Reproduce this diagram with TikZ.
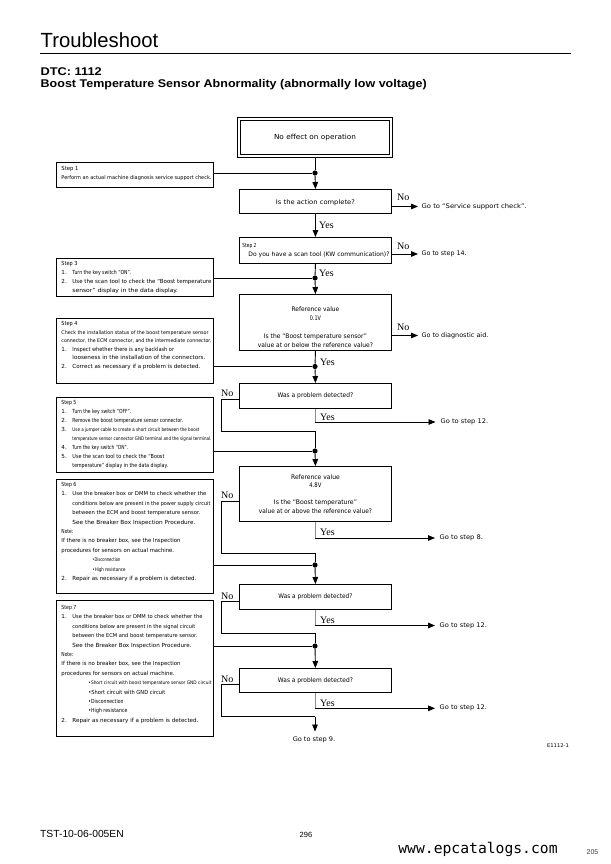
\documentclass[tikz,border=0pt]{standalone}
\usepackage{fontspec}
\setmainfont{Liberation Sans}
\newfontfamily\flowfont{DejaVu Sans}
\newfontfamily\yesnofont{Liberation Serif}
\newfontfamily\webfont{DejaVu Sans Mono}
\usepackage{graphicx}
\usetikzlibrary{arrows.meta,calc}
% flowchart text resized to a given width, height kept
\newcommand\tw[3]{{\flowfont\fontsize{#1}{#1}\selectfont\resizebox{#2pt}{\height}{#3}}}
% header text resized to a given width, height kept
\newcommand\twh[3]{{\fontsize{#1}{#1}\selectfont\resizebox{#2pt}{\height}{#3}}}
% box body: #1 height, #2 width, #3 first baseline, #4 line skip, #5 size, #6 alignment, #7 text
\newcommand\bbody[7]{\parbox[t][#1pt][t]{#2pt}{\flowfont\fontsize{#5}{#4}\selectfont\vspace*{\dimexpr#3pt-5pt\relax}#6\rule{0pt}{5pt}#7}}
\newcommand\nm[1]{\makebox[11pt][l]{#1}}
\newcommand\ind{\hspace*{11pt}}
\tikzset{
  cbox/.style={draw, line width=0.9pt, inner sep=0pt, anchor=north west},
  conn/.style={line width=0.9pt},
  yconn/.style={line width=0.9pt, draw=black!45},
  arr/.style={line width=0.9pt, -{Triangle[length=7pt,width=5.6pt]}},
  jdot/.style={circle, fill=black, inner sep=0pt, minimum size=5.2pt},
  yn/.style={font=\yesnofont\fontsize{10}{11}\selectfont, inner sep=0pt, anchor=base west},
  goto/.style={inner sep=0pt, anchor=west},
}
\begin{document}
\begin{tikzpicture}[x=1pt,y=-1pt]
\useasboundingbox (0,0) rectangle (610,864);
\fill[white] (0,0) rectangle (610,864);

% ---------- header ----------
\node[anchor=base west, inner sep=0pt] (title) at (40.5,47.3) {\twh{20.5}{117.5}{Troubleshoot}};
\draw[line width=1.2pt] (40,53.3) -- (571,53.3);
\node[anchor=base west, inner sep=0pt] (dtc) at (40.5,76) {\bfseries\twh{11.2}{61}{DTC: 1112}};
\node[anchor=base west, inner sep=0pt] (dtcname) at (40.5,87.5) {\bfseries\twh{11.2}{386}{Boost Temperature Sensor Abnormality (abnormally low voltage)}};

% ---------- start ----------
\node[draw, double, double distance=2.2pt, line width=0.8pt, inner sep=0pt,
      minimum width=152.2pt, minimum height=37.2pt] (s0) at (315,137.5)
      {\tw{7}{82}{No effect on operation}};

% ---------- step boxes (left) ----------
\node[cbox] (s1) at (56,162) {\bbody{25}{157}{8}{9}{5.6}{\leftskip=5pt\relax}{%
\tw{5.6}{17}{Step 1}\\
\tw{5.2}{150}{Perform an actual machine diagnosis service support check.}}};

\node[cbox] (s3) at (56,258) {\bbody{38}{157}{7}{9}{5.6}{\leftskip=5pt\relax}{%
\tw{5.6}{16}{Step 3}\\
\nm{1.}\tw{5.6}{59}{Turn the key switch “ON”.}\\
\nm{2.}\tw{5.6}{139}{Use the scan tool to check the “Boost temperature}\\
\ind\tw{5.6}{105.6}{sensor” display in the data display.}}};

\node[cbox] (s4) at (56,318) {\bbody{65}{157}{7}{8.6}{5.6}{\leftskip=5pt\relax}{%
\tw{5.6}{16}{Step 4}\\
\tw{5}{147}{Check the installation status of the boost temperature sensor}\\
\tw{5}{150}{connector, the ECM connector, and the intermediate connector.}\\
\nm{1.}\tw{5.6}{101.6}{Inspect whether there is any backlash or}\\
\ind\tw{5.6}{133}{looseness in the installation of the connectors.}\\
\nm{2.}\tw{5.6}{128}{Correct as necessary if a problem is detected.}}};

\node[cbox] (s5) at (56,397) {\bbody{75}{157}{7.5}{9}{5.6}{\leftskip=5pt\relax}{%
\tw{5.6}{15}{Step 5}\\
\nm{1.}\tw{5.6}{59}{Turn the key switch “OFF”.}\\
\nm{2.}\tw{5.6}{110.7}{Remove the boost temperature sensor connector.}\\
\nm{3.}\tw{4.9}{127}{Use a jumper cable to create a short circuit between the boost}\\
\ind\tw{4.9}{139}{temperature sensor connector GND terminal and the signal terminal.}\\
\nm{4.}\tw{5.6}{55.7}{Turn the key switch “ON”.}\\
\nm{5.}\tw{5.6}{92}{Use the scan tool to check the “Boost}\\
\ind\tw{5.6}{95.7}{temperature” display in the data display.}}};

\node[cbox] (s6) at (56,479) {\bbody{114}{157}{7}{9.4}{5.6}{\leftskip=5pt\relax}{%
\tw{5.6}{15}{Step 6}\\
\nm{1.}\tw{5.3}{134}{Use the breaker box or DMM to check whether the}\\
\ind\tw{5.3}{138}{conditions below are present in the power supply circuit}\\
\ind\tw{5.3}{128}{between the ECM and boost temperature sensor.}\\
\ind\tw{5.6}{123}{See the Breaker Box Inspection Procedure.}\\
\tw{5.6}{12}{Note:}\\
\tw{5.6}{119}{If there is no breaker box, see the Inspection}\\
\tw{5.6}{112.7}{procedures for sensors on actual machine.}\\
\hspace*{31pt}\tw{5}{28}{•Disconnection}\\
\hspace*{31pt}\tw{5}{33}{•High resistance}\\
\nm{2.}\tw{5.6}{124}{Repair as necessary if a problem is detected.}}};

\node[cbox] (s7) at (56,600) {\bbody{136}{157}{9}{9.4}{5.6}{\leftskip=5pt\relax}{%
\tw{5.6}{15}{Step 7}\\
\nm{1.}\tw{5.3}{130}{Use the breaker box or DMM to check whether the}\\
\ind\tw{5.3}{123}{conditions below are present in the signal circuit}\\
\ind\tw{5.3}{125}{between the ECM and boost temperature sensor.}\\
\ind\tw{5.6}{119}{See the Breaker Box Inspection Procedure.}\\
\tw{5.6}{12}{Note:}\\
\tw{5.6}{119}{If there is no breaker box, see the Inspection}\\
\tw{5.6}{113}{procedures for sensors on actual machine.}\\
\hspace*{27pt}\tw{4.8}{123}{•Short circuit with boost temperature sensor GND circuit}\\
\hspace*{27pt}\tw{5.6}{77}{•Short circuit with GND circuit}\\
\hspace*{27pt}\tw{5.6}{35}{•Disconnection}\\
\hspace*{27pt}\tw{5.6}{39}{•High resistance}\\
\nm{2.}\tw{5.6}{126}{Repair as necessary if a problem is detected.}}};

% ---------- decision boxes (centre column) ----------
\node[cbox] (d1) at (239,189) {\bbody{24}{152}{15}{9}{6.3}{\centering}{\tw{6.3}{79}{Is the action complete?}}};
\node[cbox] (d2) at (239,237) {\bbody{26}{152}{10}{9}{6}{\leftskip=3pt\relax}{%
\tw{5.6}{14}{Step 2}\\
\hspace*{6pt}\tw{6.1}{141}{Do you have a scan tool (KW communication)?}}};
\node[cbox] (d3) at (239,294) {\bbody{56}{152}{17}{9}{6.3}{\centering}{%
\tw{6.3}{47.7}{Reference value}\\
\tw{6.3}{11}{0.1V}\\[9pt]
\tw{6.3}{103}{Is the “Boost temperature sensor”}\\
\tw{6.3}{115}{value at or below the reference value?}}};
\node[cbox] (d4) at (239,383) {\bbody{25}{152}{14.5}{9}{6.3}{\centering}{\tw{6.3}{75.7}{Was a problem detected?}}};
\node[cbox] (d5) at (239,466) {\bbody{55}{152}{13}{8.5}{6.3}{\centering}{%
\tw{6.3}{48.7}{Reference value}\\
\tw{6.3}{12}{4.8V}\\[8.5pt]
\tw{6.3}{83}{Is the “Boost temperature”}\\
\tw{6.3}{113}{value at or above the reference value?}}};
\node[cbox] (d6) at (239,584) {\bbody{25}{152}{14.5}{9}{6.3}{\centering}{\tw{6.3}{74}{Was a problem detected?}}};
\node[cbox] (d7) at (239,668) {\bbody{24}{152}{14}{9}{6.3}{\centering}{\tw{6.3}{75}{Was a problem detected?}}};

% ---------- junction dots ----------
\node[jdot] (j1) at (315,173) {};
\node[jdot] (j2) at (315,278) {};
\node[jdot] (j3) at (315,366.5) {};
\node[jdot] (j4) at (315,451) {};
\node[jdot] (j5) at (315,565) {};
\node[jdot] (j6) at (315,646) {};

% ---------- corner points of the No routes ----------
\coordinate (n4t) at (221.5,399.5); \coordinate (n4b) at (221.5,431);
\coordinate (n5t) at (221.5,501);   \coordinate (n5b) at (221.5,553);
\coordinate (n6t) at (221.5,601);   \coordinate (n6b) at (221.5,633.3);
\coordinate (n7t) at (221.5,684.3); \coordinate (n7b) at (221.5,716.7);
\coordinate (a9) at (315,731.5);

% ---------- outcome texts ----------
\node[goto] (g1) at (421.5,206.5) {\tw{6.3}{105}{Go to “Service support check”.}};
\node[goto] (g2) at (421.5,254) {\tw{6.3}{45}{Go to step 14.}};
\node[goto] (g3) at (421.5,335.5) {\tw{6.3}{66.7}{Go to diagnostic aid.}};
\node[goto] (g4) at (440.5,422) {\tw{6.3}{47.5}{Go to step 12.}};
\node[goto] (g5) at (439.5,538) {\tw{6.3}{43.3}{Go to step 8.}};
\node[goto] (g6) at (439.5,625.5) {\tw{6.3}{47.3}{Go to step 12.}};
\node[goto] (g7) at (439.5,708.3) {\tw{6.3}{47.3}{Go to step 12.}};
\node[inner sep=0pt] (g8) at (314,740) {\tw{6.3}{42.5}{Go to step 9.}};

% ---------- connectors ----------
\draw[conn] (s0.south) -- (j1);
\draw[conn] (s1.east |- j1) -- (j1);
\draw[arr] (j1) -- (d1.north);
\draw[arr] (d1.east |- g1.west) -- ([xshift=-3.5pt]g1.west);
\draw[arr] (d1.south) -- (d2.north);
\draw[arr] (d2.east |- g2.west) -- ([xshift=-3.5pt]g2.west);
\draw[conn] (d2.south) -- (j2);
\draw[conn] (s3.east |- j2) -- (j2);
\draw[arr] (j2) -- (d3.north);
\draw[arr] (d3.east |- g3.west) -- ([xshift=-3.5pt]g3.west);
\draw[conn] (d3.south) -- (j3);
\draw[conn] (s4.east |- j3) -- (j3);
\draw[arr] (j3) -- (d4.north);

\draw[yconn] (d4.south) -- (d4.south |- g4.west);
\draw[arr] (d4.south |- g4.west) -- ([xshift=-5pt]g4.west);
\draw[conn] (n4t -| d4.west) -- (n4t) -- (n4b) -- (n4b -| j4) -- (j4);
\draw[conn] (s5.east |- j4) -- (j4);
\draw[arr] (j4) -- (d5.north);

\draw[yconn] (d5.south) -- (d5.south |- g5.west);
\draw[arr] (d5.south |- g5.west) -- ([xshift=-4.5pt]g5.west);
\draw[conn] (n5t -| d5.west) -- (n5t) -- (n5b) -- (n5b -| j5) -- (j5);
\draw[conn] (s6.east |- j5) -- (j5);
\draw[arr] (j5) -- (d6.north);

\draw[yconn] (d6.south) -- (d6.south |- g6.west);
\draw[arr] (d6.south |- g6.west) -- ([xshift=-4.5pt]g6.west);
\draw[conn] (n6t -| d6.west) -- (n6t) -- (n6b) -- (n6b -| j6) -- (j6);
\draw[conn] (s7.east |- j6) -- (j6);
\draw[arr] (j6) -- (d7.north);

\draw[yconn] (d7.south) -- (d7.south |- g7.west);
\draw[arr] (d7.south |- g7.west) -- ([xshift=-4.5pt]g7.west);
\draw[conn] (n7t -| d7.west) -- (n7t) -- (n7b) -- (n7b -| a9);
\draw[arr] (n7b -| a9) -- (a9);

% ---------- Yes / No labels ----------
\node[yn] (no1) at (397,200.5) {No};
\node[yn] (no2) at (397,249) {No};
\node[yn] (no3) at (397,330) {No};
\node[yn] (no4) at (221,396.5) {No};
\node[yn] (no5) at (221,498) {No};
\node[yn] (no6) at (221,599) {No};
\node[yn] (no7) at (221,682.5) {No};
\node[yn] (yes1) at (319,228.5) {Yes};
\node[yn] (yes2) at (319,276) {Yes};
\node[yn] (yes3) at (320,365.5) {Yes};
\node[yn] (yes4) at (320,420) {Yes};
\node[yn] (yes5) at (320,535.5) {Yes};
\node[yn] (yes6) at (320,623.5) {Yes};
\node[yn] (yes7) at (320,706.5) {Yes};

% ---------- figure code and footer ----------
\node[inner sep=0pt] (fig) at (558,746) {\tw{5}{22}{E1112-1}};
\node[anchor=base west, inner sep=0pt, font=\fontsize{10.3}{12}\selectfont] (code) at (40,837) {TST-10-06-005EN};
\node[inner sep=0pt, font=\fontsize{7.5}{9}\selectfont] (pg) at (306,835) {296};
\node[inner sep=0pt, font=\webfont\fontsize{14.7}{16}\selectfont] (web) at (478,849) {www.epcatalogs.com};
\node[inner sep=0pt, font=\fontsize{7}{8}\selectfont, text=black!75] (pg2) at (592.5,852) {205};
\end{tikzpicture}
\end{document}
